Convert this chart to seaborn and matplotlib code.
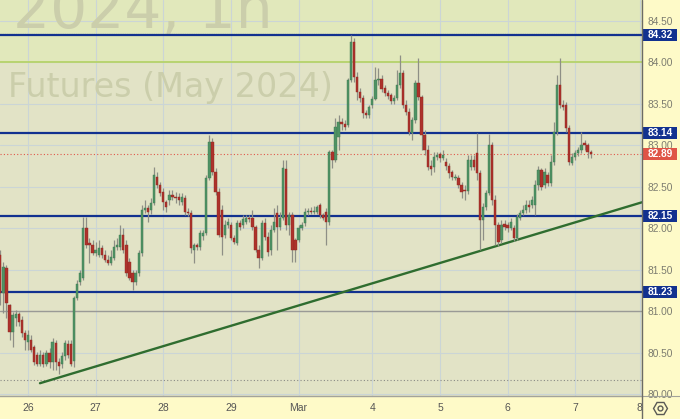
import numpy as np
import matplotlib
matplotlib.use("Agg")
import matplotlib.pyplot as plt
import matplotlib.transforms as mtransforms
from matplotlib.patches import Rectangle
from matplotlib.lines import Line2D
import seaborn as sns

# hourly candles, Feb 26 - Mar 7 (prices)
opens = [81.67, 81.22, 81.52, 81.07, 80.75, 80.92, 80.96, 80.89, 80.73, 80.63,
         80.65, 80.57, 80.47, 80.36, 80.47, 80.36, 80.49, 80.39, 80.61, 80.39,
         80.36, 80.46, 80.60, 80.60, 80.40, 81.16, 81.35, 81.40, 82.00, 81.82,
         81.80, 81.70, 81.67, 81.76, 81.67, 81.61, 81.58, 81.64, 81.77, 81.77,
         81.92, 81.80, 81.59, 81.46, 81.35, 81.46, 81.70, 82.22, 82.24, 82.22,
         82.30, 82.61, 82.52, 82.43, 82.31, 82.34, 82.40, 82.37, 82.37, 82.31,
         82.36, 82.19, 82.18, 81.73, 81.80, 81.77, 81.90, 81.94, 82.60, 83.04,
         82.67, 82.43, 82.22, 81.92, 82.04, 82.04, 81.88, 81.82, 82.06, 82.04,
         82.07, 82.12, 82.12, 82.01, 81.73, 81.64, 82.06, 81.89, 81.73, 81.98,
         82.18, 82.01, 82.12, 82.71, 82.04, 82.16, 81.86, 81.86, 82.00, 82.06,
         82.19, 82.20, 82.19, 82.19, 82.28, 82.16, 82.19, 82.07, 82.92, 82.82,
         83.10, 83.28, 83.25, 83.24, 83.78, 84.24, 83.82, 83.64, 83.57, 83.39,
         83.36, 83.48, 83.55, 83.78, 83.80, 83.69, 83.63, 83.60, 83.53, 83.57,
         83.72, 83.87, 83.48, 83.40, 83.14, 83.30, 83.75, 83.58, 83.12, 82.94,
         82.75, 82.73, 82.86, 82.89, 82.84, 82.80, 82.75, 82.67, 82.60, 82.60,
         82.52, 82.46, 82.45, 82.73, 82.82, 82.90, 82.66, 82.10, 82.25, 82.42,
         83.00, 82.34, 82.04, 81.86, 82.05, 82.04, 82.00, 82.00, 81.88, 82.12,
         82.18, 82.22, 82.28, 82.28, 82.28, 82.52, 82.70, 82.52, 82.64, 82.54,
         82.80, 83.16, 83.72, 83.48, 83.48, 83.20, 82.78, 82.86, 82.90, 82.94,
         83.02, 83.00, 82.92]
highs = [81.73, 81.59, 81.55, 81.09, 80.99, 81.01, 80.99, 80.94, 80.77, 80.77,
         80.71, 80.59, 80.51, 80.53, 80.51, 80.53, 80.55, 80.67, 80.65, 80.43,
         80.51, 80.65, 80.65, 80.65, 81.18, 81.37, 81.49, 82.13, 82.13, 81.88,
         81.86, 81.83, 81.86, 81.80, 81.73, 81.67, 81.73, 81.86, 81.88, 82.04,
         82.00, 81.86, 81.64, 81.49, 81.49, 81.73, 82.28, 82.34, 82.28, 82.36,
         82.73, 82.67, 82.55, 82.48, 82.34, 82.46, 82.46, 82.43, 82.42, 82.42,
         82.40, 82.24, 82.22, 81.82, 81.82, 81.98, 81.98, 82.64, 83.12, 83.08,
         82.72, 82.48, 82.28, 82.10, 82.12, 82.07, 81.92, 82.10, 82.10, 82.16,
         82.16, 82.16, 82.22, 82.04, 81.80, 82.10, 82.12, 81.95, 82.04, 82.24,
         82.28, 82.19, 82.82, 82.82, 82.19, 82.19, 81.88, 82.04, 82.07, 82.24,
         82.24, 82.25, 82.27, 82.28, 82.30, 82.18, 82.24, 82.94, 82.94, 83.33,
         83.36, 83.33, 83.30, 83.81, 84.33, 84.29, 83.88, 83.69, 83.60, 83.42,
         83.48, 83.59, 83.94, 83.93, 83.84, 83.72, 83.66, 83.63, 83.60, 83.90,
         84.08, 83.90, 83.54, 83.45, 83.34, 83.78, 84.05, 83.60, 83.18, 83.00,
         82.82, 82.92, 82.92, 82.92, 82.94, 82.84, 82.78, 82.70, 82.65, 82.64,
         82.55, 82.52, 82.88, 82.88, 82.88, 83.14, 82.70, 82.30, 82.46, 83.13,
         83.04, 82.40, 82.07, 82.10, 82.10, 82.07, 82.12, 82.04, 82.17, 82.22,
         82.28, 82.34, 82.34, 82.39, 82.58, 82.75, 82.72, 82.72, 82.67, 82.88,
         83.28, 83.84, 84.05, 83.54, 83.52, 83.24, 82.90, 82.94, 82.98, 83.16,
         83.06, 83.02, 82.94]
lows = [81.07, 80.98, 80.92, 80.65, 80.57, 80.82, 80.82, 80.69, 80.53, 80.53,
        80.51, 80.35, 80.34, 80.34, 80.33, 80.34, 80.31, 80.29, 80.29, 80.24,
        80.31, 80.41, 80.43, 80.34, 80.33, 81.13, 81.31, 81.37, 81.76, 81.58,
        81.67, 81.66, 81.65, 81.64, 81.59, 81.55, 81.55, 81.61, 81.73, 81.73,
        81.70, 81.42, 81.37, 81.25, 81.31, 81.42, 81.66, 82.18, 82.07, 82.17,
        82.28, 82.48, 82.39, 82.22, 82.19, 82.28, 82.34, 82.30, 82.28, 82.28,
        82.16, 82.14, 81.70, 81.58, 81.73, 81.73, 81.86, 81.92, 82.58, 82.64,
        82.40, 81.89, 81.67, 81.88, 82.00, 81.86, 81.81, 81.80, 81.98, 82.00,
        82.05, 82.07, 81.98, 81.71, 81.52, 81.61, 81.86, 81.66, 81.67, 81.95,
        81.73, 81.98, 82.10, 81.98, 81.92, 81.59, 81.59, 81.83, 81.98, 82.02,
        82.16, 82.17, 82.17, 82.17, 82.12, 82.10, 81.80, 82.04, 82.72, 82.80,
        82.94, 83.18, 83.18, 83.22, 83.76, 83.76, 83.54, 83.52, 83.33, 83.33,
        83.33, 83.45, 83.54, 83.72, 83.64, 83.59, 83.55, 83.49, 83.49, 83.54,
        83.69, 83.45, 83.36, 83.12, 83.06, 83.27, 83.54, 82.94, 82.88, 82.70,
        82.64, 82.67, 82.82, 82.80, 82.82, 82.70, 82.60, 82.58, 82.58, 82.48,
        82.36, 82.34, 82.41, 82.70, 82.70, 82.58, 81.73, 81.86, 82.22, 82.40,
        82.28, 81.80, 81.78, 81.82, 81.98, 81.95, 81.98, 81.84, 81.86, 82.10,
        82.16, 82.18, 82.19, 82.24, 82.16, 82.46, 82.46, 82.48, 82.51, 82.51,
        82.76, 83.12, 83.45, 83.42, 83.16, 82.76, 82.76, 82.82, 82.87, 82.90,
        82.94, 82.84, 82.84]
closes = [81.22, 81.53, 81.10, 80.75, 80.95, 80.96, 80.87, 80.73, 80.65, 80.71,
          80.53, 80.39, 80.36, 80.47, 80.36, 80.49, 80.39, 80.63, 80.39, 80.34,
          80.46, 80.61, 80.47, 80.36, 81.16, 81.33, 81.46, 82.00, 81.80, 81.80,
          81.70, 81.73, 81.76, 81.67, 81.61, 81.58, 81.65, 81.77, 81.80, 81.92,
          81.73, 81.46, 81.40, 81.35, 81.46, 81.70, 82.22, 82.24, 82.19, 82.30,
          82.64, 82.52, 82.42, 82.31, 82.25, 82.40, 82.37, 82.36, 82.34, 82.37,
          82.19, 82.18, 81.76, 81.80, 81.77, 81.94, 81.94, 82.60, 83.04, 82.67,
          82.43, 81.92, 81.89, 82.04, 82.07, 81.88, 81.83, 82.06, 82.01, 82.11,
          82.12, 82.11, 82.01, 81.73, 81.64, 82.06, 81.89, 81.71, 81.98, 82.07,
          82.01, 82.12, 82.72, 82.04, 82.16, 81.73, 81.73, 82.00, 82.04, 82.19,
          82.20, 82.19, 82.20, 82.25, 82.16, 82.12, 82.07, 82.92, 82.82, 83.22,
          83.28, 83.25, 83.22, 83.78, 84.24, 83.82, 83.64, 83.57, 83.39, 83.36,
          83.46, 83.55, 83.78, 83.79, 83.67, 83.63, 83.59, 83.53, 83.57, 83.72,
          83.87, 83.48, 83.40, 83.16, 83.30, 83.75, 83.58, 83.12, 82.94, 82.73,
          82.71, 82.86, 82.88, 82.84, 82.88, 82.75, 82.66, 82.61, 82.61, 82.52,
          82.43, 82.45, 82.82, 82.82, 82.73, 82.66, 82.10, 82.25, 82.42, 83.00,
          82.34, 82.04, 81.83, 82.04, 82.01, 82.00, 82.07, 81.88, 82.13, 82.18,
          82.22, 82.28, 82.25, 82.34, 82.52, 82.70, 82.49, 82.67, 82.54, 82.80,
          83.16, 83.72, 83.48, 83.46, 83.20, 82.80, 82.86, 82.90, 82.94, 83.00,
          83.00, 82.92, 82.89]

day_labels = ['26', '27', '28', '29', 'Mar', '4', '5', '6', '7', '8']
day_ticks = [9, 31, 53, 75, 97, 121, 143, 165, 187, 208]
price_ticks = [80.0, 80.5, 81.0, 81.5, 82.0, 82.5, 83.0, 83.5, 84.0, 84.5]

levels = [84.32, 83.14, 82.15, 81.23]
last_price = 82.89
trend_x = [12.9, 208.7]
trend_y = [80.13, 82.31]

# colours
bg_low = '#e2e3c6'
bg_high = '#e1e8bb'
panel = '#fefac8'
navy = '#12318f'
up_col = '#4f9264'
dn_col = '#ad322b'
wick_col = '#8e8f86'

sns.set_style('white')
plt.rcParams['font.family'] = ['Liberation Sans', 'DejaVu Sans']

W, H = 680, 419
fig = plt.figure(figsize=(W / 100, H / 100), dpi=100, facecolor=panel)
b = 23 / H
ax = fig.add_axes([0, b, 642 / W, 1 - b])
ax_r = fig.add_axes([642 / W, b, 38 / W, 1 - b])

ylo, yhi = 79.976, 84.747
ax.set_xlim(-0.1, 208.7)
ax.set_ylim(ylo, yhi)
ax_r.set_ylim(ylo, yhi)
ax_r.set_xlim(0, 1)

ax.set_facecolor(bg_low)
ax.axhspan(84.0, yhi, color=bg_high, zorder=0, lw=0)
ax_r.set_facecolor(panel)

# grid
for p in price_ticks:
    ax.axhline(p, color='#cbd5d6', lw=0.8, zorder=0.5)
for d in day_ticks:
    ax.axvline(d, color='#cbd5d6', lw=0.8, zorder=0.5)

# watermark
ax.text(13 / 642, 1 - 28 / 396, '2024, 1h', transform=ax.transAxes, fontsize=42,
        family='DejaVu Sans', color='#cbceab', ha='left', va='baseline', zorder=0.6,
        clip_on=True)
ax.text(8 / 642, 1 - 97 / 396, 'Futures (May 2024)', transform=ax.transAxes,
        fontsize=24, family='DejaVu Sans', color='#cbceab', ha='left',
        va='baseline', zorder=0.6)

# helper lines
ax.axhline(84.0, color='#b6d36a', lw=1.3, zorder=1)
ax.axhline(81.0, color='#9a9a96', lw=1.0, zorder=1)
ax.axhline(80.17, color='#8a8a86', lw=0.8, ls=(0, (1, 2)), zorder=1)
ax.axhline(84.335, color='#445070', lw=0.8, ls=(0, (1, 1)), zorder=1)
ax.axhline(last_price, color='#e0574a', lw=0.8, ls=(0, (1, 2)), zorder=1)
for lv in levels:
    ax.axhline(lv, color=navy, lw=1.6, zorder=2)

# trend line
sns.lineplot(x=trend_x, y=trend_y, ax=ax, color='#2f6d2f', lw=1.7, zorder=2.5)

# candles
o = np.array(opens)
h = np.array(highs)
l = np.array(lows)
c = np.array(closes)
idx = np.arange(len(c))
up = c >= o
ax.vlines(idx, l, h, color=wick_col, lw=0.9, zorder=3)
body = np.maximum(np.abs(c - o), 0.012)
ax.bar(idx[up], body[up], bottom=o[up], width=0.74, color=up_col,
       edgecolor='#3f7a52', lw=0.3, zorder=4)
ax.bar(idx[~up], body[~up], bottom=c[~up], width=0.74, color=dn_col,
       edgecolor='#8e2822', lw=0.3, zorder=4)

# axes cosmetics
ax.set_xticks(day_ticks)
ax.set_xticklabels(day_labels)
ax.tick_params(axis='x', length=0, pad=5, labelsize=7.5, labelcolor='#555555')
ax.set_yticks([])
for s in ['top', 'left', 'right']:
    ax.spines[s].set_visible(False)
ax.spines['bottom'].set_color('#a3a39a')
ax.spines['bottom'].set_linewidth(1)
ax.set_xlabel('')
ax.set_ylabel('')

ax_r.set_xticks([])
ax_r.set_yticks(price_ticks)
ax_r.set_yticklabels([f'{p:.2f}' for p in price_ticks])
ax_r.tick_params(axis='y', length=0, pad=-4, labelsize=7.3, labelcolor='#7c7c70')
for lbl in ax_r.get_yticklabels():
    lbl.set_horizontalalignment('left')
for s in ['top', 'right']:
    ax_r.spines[s].set_visible(False)
ax_r.spines['left'].set_visible(False)
ax_r.spines['bottom'].set_color('#a3a39a')

# price labels on the scale
trans = mtransforms.blended_transform_factory(ax_r.transAxes, ax_r.transData)
box_h = 12 / 83
for lv, col in list(zip(levels, [navy] * len(levels))) + [(last_price, '#df5446')]:
    ax_r.add_patch(Rectangle((1 / 38, lv - box_h / 2), 34 / 38, box_h,
                             transform=trans, facecolor=col, edgecolor='none', zorder=5))
    ax_r.text(18 / 38, lv, f'{lv:.2f}', transform=trans, ha='center', va='center',
              color='white', fontsize=7.3, fontweight='bold', zorder=6)

# settings icon in the corner
ax_r.plot([0.47], [79.83], transform=trans, marker='H', ms=10, mfc='none',
          mec='#5a5a55', mew=1.0, clip_on=False)
ax_r.plot([0.47], [79.83], transform=trans, marker='o', ms=3.5, mfc='none',
          mec='#5a5a55', mew=1.0, clip_on=False)

# price-scale border
fig.add_artist(Line2D([642 / W, 642 / W], [0, 1], transform=fig.transFigure,
                      color='#6b6b66', lw=1.0))

fig.savefig('out.png', dpi=100, facecolor=panel)
